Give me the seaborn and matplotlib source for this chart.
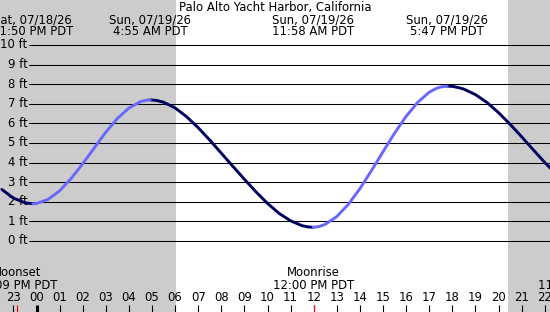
import numpy as np
import pandas as pd
import seaborn as sns
import matplotlib
matplotlib.use("Agg")
import matplotlib.pyplot as plt

# tide heights (ft), hours relative to Sun 07/19 00:00
hours = [-1.5, -1.0, -0.5, -0.17, 0.0, 0.5, 1.0, 1.5, 2.0, 2.5, 3.0, 3.5, 4.0, 4.5, 4.7,
         4.92, 5.2, 5.5, 6.0, 6.5, 7.0, 7.5, 8.0, 8.5, 9.0, 9.5, 10.0, 10.5, 11.0, 11.5,
         11.75, 11.97, 12.25, 12.5, 13.0, 13.5, 14.0, 14.5, 15.0, 15.5, 16.0, 16.5, 17.0,
         17.3, 17.5, 17.78, 18.0, 18.25, 18.5, 19.0, 19.5, 20.0, 20.5, 21.0, 21.5, 22.0, 22.5]
heights = [2.63, 2.19, 1.95, 1.90, 1.91, 2.12, 2.56, 3.19, 3.94, 4.75, 5.55, 6.25, 6.78, 7.11, 7.17,
           7.20, 7.17, 7.08, 6.79, 6.34, 5.78, 5.15, 4.48, 3.81, 3.15, 2.51, 1.92, 1.41, 1.03, 0.78,
           0.72, 0.70, 0.74, 0.85, 1.25, 1.87, 2.67, 3.59, 4.55, 5.50, 6.36, 7.07, 7.59,
           7.78, 7.86, 7.90, 7.89, 7.83, 7.75, 7.47, 7.07, 6.55, 5.96, 5.32, 4.66, 4.01, 3.41]

# high / low events shown at the top
event_hours = [-0.17, 4.92, 11.97, 17.78]
event_dates = ['Sat, 07/18/26', 'Sun, 07/19/26', 'Sun, 07/19/26', 'Sun, 07/19/26']
event_times = ['11:50 PM PDT', '4:55 AM PDT', '11:58 AM PDT', '5:47 PM PDT']

# moon events shown at the bottom
moon_hours = [-0.85, 12.0, 23.47]
moon_names = ['Moonset', 'Moonrise', 'Moonset']
moon_times = ['11:09 PM PDT', '12:00 PM PDT', '11:28 PM PDT']

sunrise, sunset = 6.03, 20.41
ft_ticks = list(range(0, 11))
hour_ticks = list(range(-1, 23))
hour_labels = ['%02d' % (h % 24) for h in hour_ticks]

# pixel mapping of the original image
X0, PXH = 36.5, 23.1      # x pixel of 00:00, pixels per hour
Y0, PXF = 241.0, 19.6     # y pixel of 0 ft, pixels per foot
W, H = 550, 312

def px_x(p):
    return (p - X0) / PXH

def px_y(p):
    return (Y0 - p) / PXF

sns.set_style("white")
plt.rcParams['font.family'] = ['DejaVu Sans']
plt.rcParams['text.color'] = 'black'
FS = 8.4

fig = plt.figure(figsize=(W / 100, H / 100), dpi=100)
ax = fig.add_axes([0, 0, 1, 1])
ax.set_xlim(px_x(0), px_x(W))
ax.set_ylim(px_y(H), px_y(0))
ax.axis('off')

# night shading
ax.axvspan(px_x(0), sunrise, color='#cccccc', lw=0, zorder=0)
ax.axvspan(sunset, px_x(W), color='#cccccc', lw=0, zorder=0)

# ft grid lines and labels
for f in ft_ticks:
    ax.axhline(f, xmin=29 / W, xmax=1, color='black', lw=0.75, zorder=1)
    ax.text(px_x(27.5), f, '%d ft' % f, ha='right', va='center', fontsize=FS, zorder=2)

# tide curve, split into rising / falling runs
t = np.array(hours)
h = np.array(heights)
up = np.diff(h) > 0
rows = []
seg = 0
start = 0
for i in range(1, len(up) + 1):
    if i == len(up) or up[i] != up[start]:
        phase = 'rising' if up[start] else 'falling'
        for j in range(start, i + 1):
            rows.append({'hour': t[j], 'height': h[j], 'phase': phase, 'seg': seg})
        seg += 1
        start = i
df = pd.DataFrame(rows)
sns.lineplot(data=df, x='hour', y='height', hue='phase', units='seg', estimator=None,
             palette={'rising': '#6868ff', 'falling': '#00005e'}, linewidth=2.1,
             legend=False, ax=ax, zorder=3)
ax.set_xlabel('')
ax.set_ylabel('')

# title and event labels
ax.text(0.5, px_y(8), 'Palo Alto Yacht Harbor, California', transform=ax.get_yaxis_transform(),
        ha='center', va='center', fontsize=FS)
for eh, d, tm in zip(event_hours, event_dates, event_times):
    ax.text(eh, px_y(20), d, ha='center', va='center', fontsize=FS)
    ax.text(eh, px_y(31.5), tm, ha='center', va='center', fontsize=FS)

# moon labels
for mh, n, tm in zip(moon_hours, moon_names, moon_times):
    ax.text(mh, px_y(273), n, ha='center', va='center', fontsize=FS)
    ax.text(mh, px_y(285.5), tm, ha='center', va='center', fontsize=FS)

# hour ticks
for hh, lab in zip(hour_ticks, hour_labels):
    ax.text(hh, px_y(297.5), lab, ha='center', va='center', fontsize=FS)
    ax.vlines(hh, px_y(312), px_y(305), color='black', lw=2.2 if hh == 0 else 0.8)
for mh in moon_hours:
    ax.vlines(mh, px_y(312), px_y(305), color='red', lw=0.8)

fig.savefig('out.png', dpi=100)
